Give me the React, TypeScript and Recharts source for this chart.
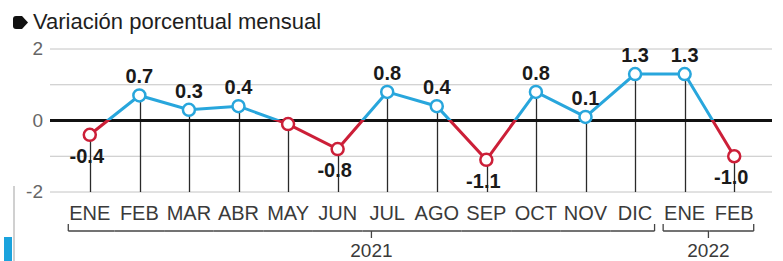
import {
  ComposedChart,
  Line,
  Bar,
  XAxis,
  YAxis,
  CartesianGrid,
  ReferenceLine,
  LabelList,
} from "recharts";

const months = ["ENE", "FEB", "MAR", "ABR", "MAY", "JUN", "JUL", "AGO", "SEP", "OCT", "NOV", "DIC", "ENE", "FEB"];
const values = [-0.4, 0.7, 0.3, 0.4, -0.1, -0.8, 0.8, 0.4, -1.1, 0.8, 0.1, 1.3, 1.3, -1.0];
const valueLabels = ["-0.4", "0.7", "0.3", "0.4", null, "-0.8", "0.8", "0.4", "-1.1", "0.8", "0.1", "1.3", "1.3", "-1.0"];
const yearGroups = [
  { label: "2021", start: 0, end: 11 },
  { label: "2022", start: 12, end: 13 },
];
const yTicks = [-2, -1, 0, 1, 2];
const yTickLabels = ["-2", "", "0", "", "2"];

const BLUE = "#28a6dc";
const RED = "#cc1f38";
const W = 783;
const H = 261;
const PLOT_LEFT = 50;
const PLOT_RIGHT = 772;
const PAD_L = 15;
const PAD_R = 13;
const BAND = (PLOT_RIGHT - PLOT_LEFT - PAD_L - PAD_R) / months.length;
const BRACKET_Y = 231;

const data = months.map((m, i) => ({
  idx: i,
  month: m,
  value: values[i],
  label: valueLabels[i],
  stem: [values[i], -2],
}));

const maxV = Math.max(...values);
const minV = Math.min(...values);
const zeroOffset = maxV / (maxV - minV);

const narrow = "'Liberation Sans Narrow', 'Liberation Sans', sans-serif";

function MonthTick(props: any) {
  const { x, payload } = props;
  const i = payload.value as number;
  const g = yearGroups.find((yg) => i >= yg.start && i <= yg.end)!;
  const left = i === g.start ? x - 21.5 : x - BAND / 2;
  const right = i === g.end ? x + 19.5 : x + BAND / 2;
  const parts: any[] = [
    <text key="t" x={x} y={220} textAnchor="middle" fontFamily={narrow} fontSize={20} fill="#3a3a3a">
      {months[i]}
    </text>,
    <line key="h" x1={left} x2={right} y1={BRACKET_Y} y2={BRACKET_Y} stroke="#444" strokeWidth={1.3} />,
  ];
  if (i === g.start) {
    parts.push(<line key="l" x1={left} x2={left} y1={BRACKET_Y - 7} y2={BRACKET_Y} stroke="#444" strokeWidth={1.3} />);
    const gl = left;
    const gr = x + (g.end - g.start) * BAND + 19.5;
    const mid = g.label === "2021" ? (gl + gr) / 2 + 10 : (gl + gr) / 2;
    parts.push(<line key="c" x1={mid} x2={mid} y1={BRACKET_Y} y2={BRACKET_Y + 7} stroke="#444" strokeWidth={1.3} />);
    parts.push(
      <text key="y" x={mid} y={257} textAnchor="middle" fontFamily={narrow} fontSize={19} fill="#3a3a3a">
        {g.label}
      </text>
    );
  }
  if (i === g.end) {
    parts.push(<line key="r" x1={right} x2={right} y1={BRACKET_Y - 7} y2={BRACKET_Y} stroke="#444" strokeWidth={1.3} />);
  }
  return <g>{parts}</g>;
}

function ValueTick(props: any) {
  const { y, payload } = props;
  const k = yTicks.indexOf(payload.value);
  return (
    <text x={43} y={y} dy={6} textAnchor="end" fontFamily={narrow} fontSize={19} fill="#666">
      {yTickLabels[k]}
    </text>
  );
}

function Stem(props: any) {
  const { x, y, width, height } = props;
  const cx = Math.round(x + width / 2) + 0.5;
  return <line x1={cx} x2={cx} y1={y} y2={y + height} stroke="#2a2a2a" strokeWidth={1.3} />;
}

function Dot(props: any) {
  const { cx, cy, index } = props;
  return (
    <circle
      key={index}
      cx={cx}
      cy={cy}
      r={6}
      fill="#fff"
      stroke={values[index] < 0 ? RED : BLUE}
      strokeWidth={2.5}
    />
  );
}

function ValueLabel(props: any) {
  const { x, y, value, index } = props;
  if (!value) return null;
  const neg = values[index] < 0;
  return (
    <text
      x={x - (neg ? 3 : 0)}
      y={neg ? y + 28 : y - 12}
      textAnchor="middle"
      fontFamily="'Liberation Sans', Arial, sans-serif"
      fontWeight="bold"
      fontSize={20}
      fill="#1a1a1a"
    >
      {value}
    </text>
  );
}

export default function App() {
  return (
    <div style={{ position: "absolute", left: 0, top: 0, width: W, height: H, background: "#fff", overflow: "hidden" }}>
      <div
        style={{
          position: "absolute",
          left: 12,
          top: 9,
          display: "flex",
          alignItems: "center",
          fontFamily: "'Liberation Sans', Arial, sans-serif",
          fontSize: 22,
          color: "#1e1e1e",
          whiteSpace: "nowrap",
        }}
      >
        <svg width={17} height={15} style={{ marginRight: 4 }}>
          <path d="M4 1 H10 L16 7.5 L10 14 H4 Q1 14 1 11 V4 Q1 1 4 1 Z" fill="#111" />
        </svg>
        Variación porcentual mensual
      </div>
      <div style={{ position: "absolute", left: 13, top: 186, width: 2, height: 75, background: "#d0d0d0" }} />
      <div style={{ position: "absolute", left: 4, top: 237, width: 8, height: 24, background: "#1aa3dd" }} />
      <ComposedChart
        width={W}
        height={H}
        data={data}
        margin={{ top: 49, right: W - PLOT_RIGHT, bottom: 0, left: 0 }}
        style={{ position: "absolute", left: 0, top: 0 }}
      >
        <defs>
          <linearGradient id="lineGrad" x1="0" y1="0" x2="0" y2="1">
            <stop offset={zeroOffset} stopColor={BLUE} />
            <stop offset={zeroOffset} stopColor={RED} />
          </linearGradient>
        </defs>
        <CartesianGrid vertical={false} stroke="#c4c4c4" strokeWidth={1} />
        <XAxis
          dataKey="idx"
          axisLine={false}
          tickLine={false}
          height={H - 192}
          padding={{ left: PAD_L, right: PAD_R }}
          interval={0}
          tick={<MonthTick />}
        />
        <YAxis
          domain={[-2, 2]}
          ticks={yTicks}
          width={PLOT_LEFT}
          axisLine={false}
          tickLine={false}
          tick={<ValueTick />}
        />
        <Bar dataKey="stem" barSize={2} shape={<Stem />} isAnimationActive={false} />
        <ReferenceLine y={0} stroke="#111" strokeWidth={3} />
        <Line
          type="linear"
          dataKey="value"
          stroke="url(#lineGrad)"
          strokeWidth={3}
          dot={Dot}
          activeDot={false}
          isAnimationActive={false}
        >
          <LabelList dataKey="label" content={<ValueLabel />} />
        </Line>
      </ComposedChart>
    </div>
  );
}
